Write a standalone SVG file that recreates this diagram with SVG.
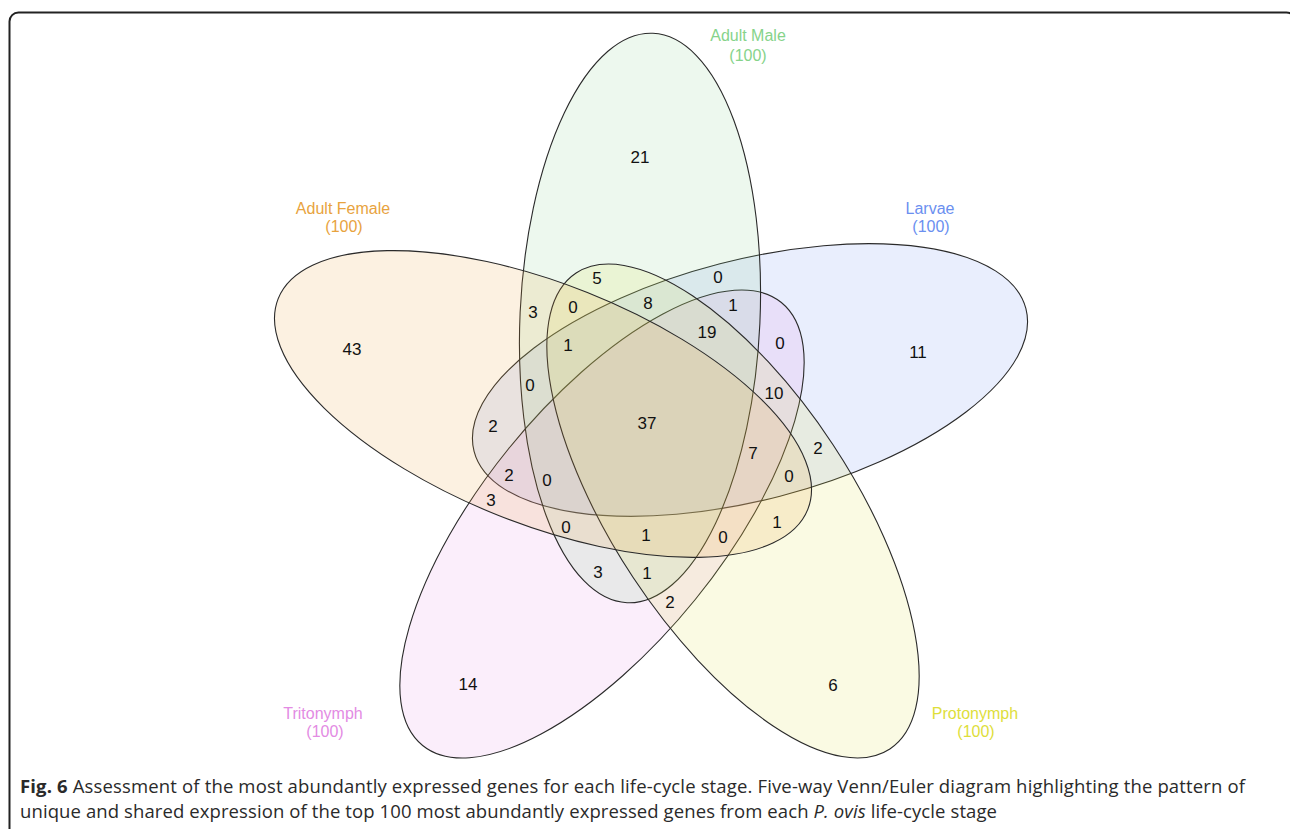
<svg xmlns="http://www.w3.org/2000/svg" width="1290" height="829" viewBox="0 0 1290 829">
<style>
.set{fill-opacity:0.15;stroke:#2a2a2a;stroke-width:1.1}
.num{font-family:"Liberation Sans",Arial,sans-serif;font-size:17px;fill:#111;text-anchor:middle}
.lab{font-family:"Liberation Sans",Arial,sans-serif;font-size:16px;text-anchor:middle}
.cap{font-family:"Open Sans","Liberation Sans",sans-serif;font-size:18.5px;fill:#2a2a2a}
</style>
<rect x="0" y="0" width="1290" height="829" fill="#ffffff"/>
<rect id="frame" x="9.5" y="12.5" width="1286" height="900" rx="9" fill="none" stroke="#222" stroke-width="2"/>
<g id="larvae">
<ellipse class="set" cx="750" cy="380" rx="285" ry="120" transform="rotate(-14.5 750 380)" fill="#6b8ff0"/>
<text class="lab" x="930" y="214" fill="#6b8ff0">Larvae</text>
<text class="lab" x="931" y="232" fill="#6b8ff0">(100)</text>
</g>
<g id="tritonymph">
<ellipse class="set" cx="602" cy="524" rx="285" ry="120" transform="rotate(-51 602 524)" fill="#e38be3"/>
<text class="lab" x="323" y="719" fill="#e38be3">Tritonymph</text>
<text class="lab" x="325" y="737" fill="#e38be3">(100)</text>
</g>
<g id="adult-male">
<ellipse class="set" cx="640" cy="318" rx="285" ry="120" transform="rotate(-87.4 640 318)" fill="#86d38a"/>
<text class="lab" x="748" y="41" fill="#86d38a">Adult Male</text>
<text class="lab" x="748" y="61" fill="#86d38a">(100)</text>
</g>
<g id="protonymph">
<ellipse class="set" cx="733" cy="511" rx="285" ry="120" transform="rotate(56.6 733 511)" fill="#e0e040"/>
<text class="lab" x="975" y="719" fill="#dede3a">Protonymph</text>
<text class="lab" x="976" y="737" fill="#dede3a">(100)</text>
</g>
<g id="adult-female">
<ellipse class="set" cx="543" cy="404" rx="285" ry="120" transform="rotate(21.7 543 404)" fill="#eaa038"/>
<text class="lab" x="343" y="214" fill="#e8a33e">Adult Female</text>
<text class="lab" x="344" y="232" fill="#e8a33e">(100)</text>
</g>
<g id="counts">
<text class="num" x="640" y="163">21</text>
<text class="num" x="352" y="355">43</text>
<text class="num" x="918" y="358">11</text>
<text class="num" x="468" y="690">14</text>
<text class="num" x="833" y="691">6</text>
<text class="num" x="597" y="284">5</text>
<text class="num" x="718" y="283">0</text>
<text class="num" x="533" y="318">3</text>
<text class="num" x="573" y="313">0</text>
<text class="num" x="648" y="309">8</text>
<text class="num" x="733" y="311">1</text>
<text class="num" x="707" y="338">19</text>
<text class="num" x="568" y="351">1</text>
<text class="num" x="780" y="349">0</text>
<text class="num" x="530" y="391">0</text>
<text class="num" x="774" y="399">10</text>
<text class="num" x="493" y="432">2</text>
<text class="num" x="647" y="429">37</text>
<text class="num" x="753" y="459">7</text>
<text class="num" x="818" y="454">2</text>
<text class="num" x="509" y="481">2</text>
<text class="num" x="547" y="486">0</text>
<text class="num" x="789" y="482">0</text>
<text class="num" x="491" y="506">3</text>
<text class="num" x="566" y="533">0</text>
<text class="num" x="646" y="541">1</text>
<text class="num" x="723" y="543">0</text>
<text class="num" x="777" y="528">1</text>
<text class="num" x="598" y="578">3</text>
<text class="num" x="647" y="579">1</text>
<text class="num" x="670" y="608">2</text>
</g>
<g id="caption">
<text class="cap" x="20" y="793" textLength="1225"><tspan font-weight="bold">Fig. 6</tspan> Assessment of the most abundantly expressed genes for each life-cycle stage. Five-way Venn/Euler diagram highlighting the pattern of</text>
<text class="cap" x="20" y="818" textLength="977">unique and shared expression of the top 100 most abundantly expressed genes from each <tspan font-style="italic">P. ovis</tspan> life-cycle stage</text>
</g>
</svg>
